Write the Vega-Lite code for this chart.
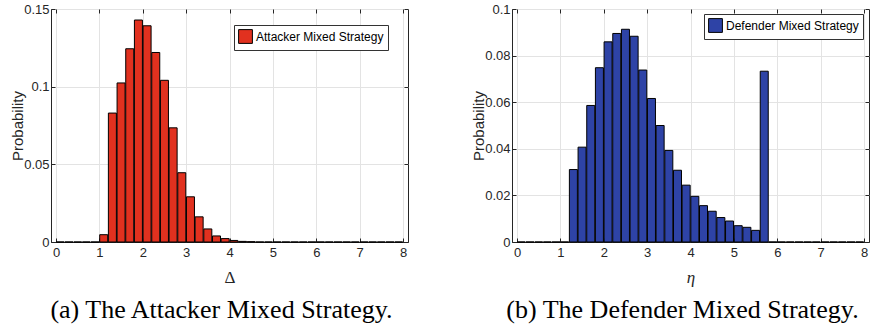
{
  "$schema": "https://vega.github.io/schema/vega-lite/v6.json",
  "padding": {"left": 9, "top": 2, "right": 0, "bottom": 0},
  "bounds": "flush",
  "spacing": 104,
  "resolve": {"scale": {"color": "independent"}, "legend": {"color": "independent"}},
  "config": {
    "view": {"stroke": "#262626", "strokeWidth": 1},
    "axis": {"labelFont": "Liberation Sans Narrow, Liberation Sans", "labelFontSize": 13, "labelColor": "#262626", "tickColor": "#262626", "domainColor": "#262626", "gridColor": "#e3e3e3", "titleFontWeight": "normal", "titleColor": "#262626", "labelOverlap": false}
  },
  "datasets": {
    "attacker": [
      {"x": 0.1, "p": 0}, {"x": 0.3, "p": 0}, {"x": 0.5, "p": 0}, {"x": 0.7, "p": 0}, {"x": 0.9, "p": 0},
      {"x": 1.1, "p": 0.0047}, {"x": 1.3, "p": 0.083}, {"x": 1.5, "p": 0.1024}, {"x": 1.7, "p": 0.1244},
      {"x": 1.9, "p": 0.1429}, {"x": 2.1, "p": 0.1392}, {"x": 2.3, "p": 0.122}, {"x": 2.5, "p": 0.1041},
      {"x": 2.7, "p": 0.0735}, {"x": 2.9, "p": 0.0446}, {"x": 3.1, "p": 0.0291}, {"x": 3.3, "p": 0.0162},
      {"x": 3.5, "p": 0.0084}, {"x": 3.7, "p": 0.0039}, {"x": 3.9, "p": 0.0022}, {"x": 4.1, "p": 0.001},
      {"x": 4.3, "p": 0.0004}, {"x": 4.5, "p": 0.0002}, {"x": 4.7, "p": 0}, {"x": 4.9, "p": 0},
      {"x": 5.1, "p": 0}, {"x": 5.3, "p": 0}, {"x": 5.5, "p": 0}, {"x": 5.7, "p": 0}, {"x": 5.9, "p": 0},
      {"x": 6.1, "p": 0}, {"x": 6.3, "p": 0}, {"x": 6.5, "p": 0}, {"x": 6.7, "p": 0}, {"x": 6.9, "p": 0},
      {"x": 7.1, "p": 0}, {"x": 7.3, "p": 0}, {"x": 7.5, "p": 0}, {"x": 7.7, "p": 0}, {"x": 7.9, "p": 0}
    ],
    "defender": [
      {"x": 0.1, "p": 0}, {"x": 0.3, "p": 0}, {"x": 0.5, "p": 0}, {"x": 0.7, "p": 0}, {"x": 0.9, "p": 0}, {"x": 1.1, "p": 0},
      {"x": 1.3, "p": 0.0311}, {"x": 1.5, "p": 0.0407}, {"x": 1.7, "p": 0.0586}, {"x": 1.9, "p": 0.0748},
      {"x": 2.1, "p": 0.0859}, {"x": 2.3, "p": 0.0895}, {"x": 2.5, "p": 0.0913}, {"x": 2.7, "p": 0.0883},
      {"x": 2.9, "p": 0.0738}, {"x": 3.1, "p": 0.0616}, {"x": 3.3, "p": 0.05}, {"x": 3.5, "p": 0.0393},
      {"x": 3.7, "p": 0.0308}, {"x": 3.9, "p": 0.0244}, {"x": 4.1, "p": 0.0196}, {"x": 4.3, "p": 0.0156},
      {"x": 4.5, "p": 0.0132}, {"x": 4.7, "p": 0.0105}, {"x": 4.9, "p": 0.009}, {"x": 5.1, "p": 0.007},
      {"x": 5.3, "p": 0.0063}, {"x": 5.5, "p": 0.005}, {"x": 5.7, "p": 0.0733},
      {"x": 5.9, "p": 0}, {"x": 6.1, "p": 0}, {"x": 6.3, "p": 0}, {"x": 6.5, "p": 0}, {"x": 6.7, "p": 0},
      {"x": 6.9, "p": 0}, {"x": 7.1, "p": 0}, {"x": 7.3, "p": 0}, {"x": 7.5, "p": 0}, {"x": 7.7, "p": 0}, {"x": 7.9, "p": 0}
    ]
  },
  "hconcat": [
    {
      "width": 357, "height": 233,
      "data": {"name": "attacker"},
      "title": {"text": "(a) The Attacker Mixed Strategy.", "orient": "bottom", "font": "Liberation Serif", "fontSize": 26, "fontWeight": "normal", "color": "black", "offset": 12, "dx": -8},
      "layer": [
        {
          "mark": {"type": "bar", "width": 8, "stroke": "black", "strokeWidth": 1},
          "encoding": {
            "x": {"field": "x", "type": "quantitative", "scale": {"domain": [0, 8], "nice": false, "zero": false},
                  "axis": {"orient": "bottom", "values": [0,1,2,3,4,5,6,7,8], "format": "d", "grid": true, "tickSize": -4, "labelPadding": 8,
                           "title": "Δ", "titleFont": "Liberation Serif", "titleFontSize": 17, "titleY": 27}},
            "y": {"field": "p", "type": "quantitative", "stack": null, "scale": {"domain": [0, 0.15], "nice": false},
                  "axis": {"orient": "left", "values": [0, 0.05, 0.1, 0.15], "labelExpr": "datum.value == 0 ? '0' : datum.value > 0.12 ? '0.15' : datum.value > 0.07 ? '0.1' : '0.05'", "grid": true, "tickSize": -4, "labelPadding": 6,
                           "title": "Probability", "titleFont": "Liberation Sans", "titleFontSize": 15, "titleX": -26}},
            "color": {"datum": "Attacker Mixed Strategy", "scale": {"domain": ["Attacker Mixed Strategy"], "range": ["#E1311F"]},
                      "legend": {"orient": "none", "legendX": 183, "legendY": 16, "title": null, "fillColor": "white", "strokeColor": "#333333",
                                 "padding": 4, "symbolType": "square", "symbolSize": 190, "symbolStrokeColor": "black", "symbolStrokeWidth": 1,
                                 "symbolOpacity": 1, "labelFont": "Liberation Sans Narrow, Liberation Sans", "labelFontSize": 12, "labelColor": "black", "labelLimit": 0, "labelOffset": 3}}
          }
        },
        {
          "mark": {"type": "point", "opacity": 0},
          "encoding": {
            "x": {"field": "x", "type": "quantitative", "axis": {"orient": "top", "values": [0,1,2,3,4,5,6,7,8], "labels": false, "domain": false, "grid": false, "tickSize": -4, "title": null}},
            "y": {"field": "p", "type": "quantitative", "axis": {"orient": "right", "values": [0, 0.05, 0.1, 0.15], "labels": false, "domain": false, "grid": false, "tickSize": -4, "title": null}}
          }
        }
      ],
      "resolve": {"axis": {"x": "independent", "y": "independent"}}
    },
    {
      "width": 357, "height": 233,
      "data": {"name": "defender"},
      "title": {"text": "(b) The Defender Mixed Strategy.", "orient": "bottom", "font": "Liberation Serif", "fontSize": 26, "fontWeight": "normal", "color": "black", "offset": 12, "dx": -8},
      "layer": [
        {
          "mark": {"type": "bar", "width": 8, "stroke": "black", "strokeWidth": 1},
          "encoding": {
            "x": {"field": "x", "type": "quantitative", "scale": {"domain": [0, 8], "nice": false, "zero": false},
                  "axis": {"orient": "bottom", "values": [0,1,2,3,4,5,6,7,8], "format": "d", "grid": true, "tickSize": -4, "labelPadding": 8,
                           "title": "η", "titleFont": "Liberation Serif", "titleFontStyle": "italic", "titleFontSize": 17, "titleY": 27}},
            "y": {"field": "p", "type": "quantitative", "stack": null, "scale": {"domain": [0, 0.1], "nice": false},
                  "axis": {"orient": "left", "values": [0, 0.02, 0.04, 0.06, 0.08, 0.1], "format": "~g", "grid": true, "tickSize": -4, "labelPadding": 6,
                           "title": "Probability", "titleFont": "Liberation Sans", "titleFontSize": 15, "titleX": -26}},
            "color": {"datum": "Defender Mixed Strategy", "scale": {"domain": ["Defender Mixed Strategy"], "range": ["#2E43A6"]},
                      "legend": {"orient": "none", "legendX": 192, "legendY": 5, "title": null, "fillColor": "white", "strokeColor": "#333333",
                                 "padding": 4, "symbolType": "square", "symbolSize": 190, "symbolStrokeColor": "black", "symbolStrokeWidth": 1,
                                 "symbolOpacity": 1, "labelFont": "Liberation Sans Narrow, Liberation Sans", "labelFontSize": 12, "labelColor": "black", "labelLimit": 0, "labelOffset": 3}}
          }
        },
        {
          "mark": {"type": "point", "opacity": 0},
          "encoding": {
            "x": {"field": "x", "type": "quantitative", "axis": {"orient": "top", "values": [0,1,2,3,4,5,6,7,8], "labels": false, "domain": false, "grid": false, "tickSize": -4, "title": null}},
            "y": {"field": "p", "type": "quantitative", "axis": {"orient": "right", "values": [0, 0.02, 0.04, 0.06, 0.08, 0.1], "labels": false, "domain": false, "grid": false, "tickSize": -4, "title": null}}
          }
        }
      ],
      "resolve": {"axis": {"x": "independent", "y": "independent"}}
    }
  ]
}
